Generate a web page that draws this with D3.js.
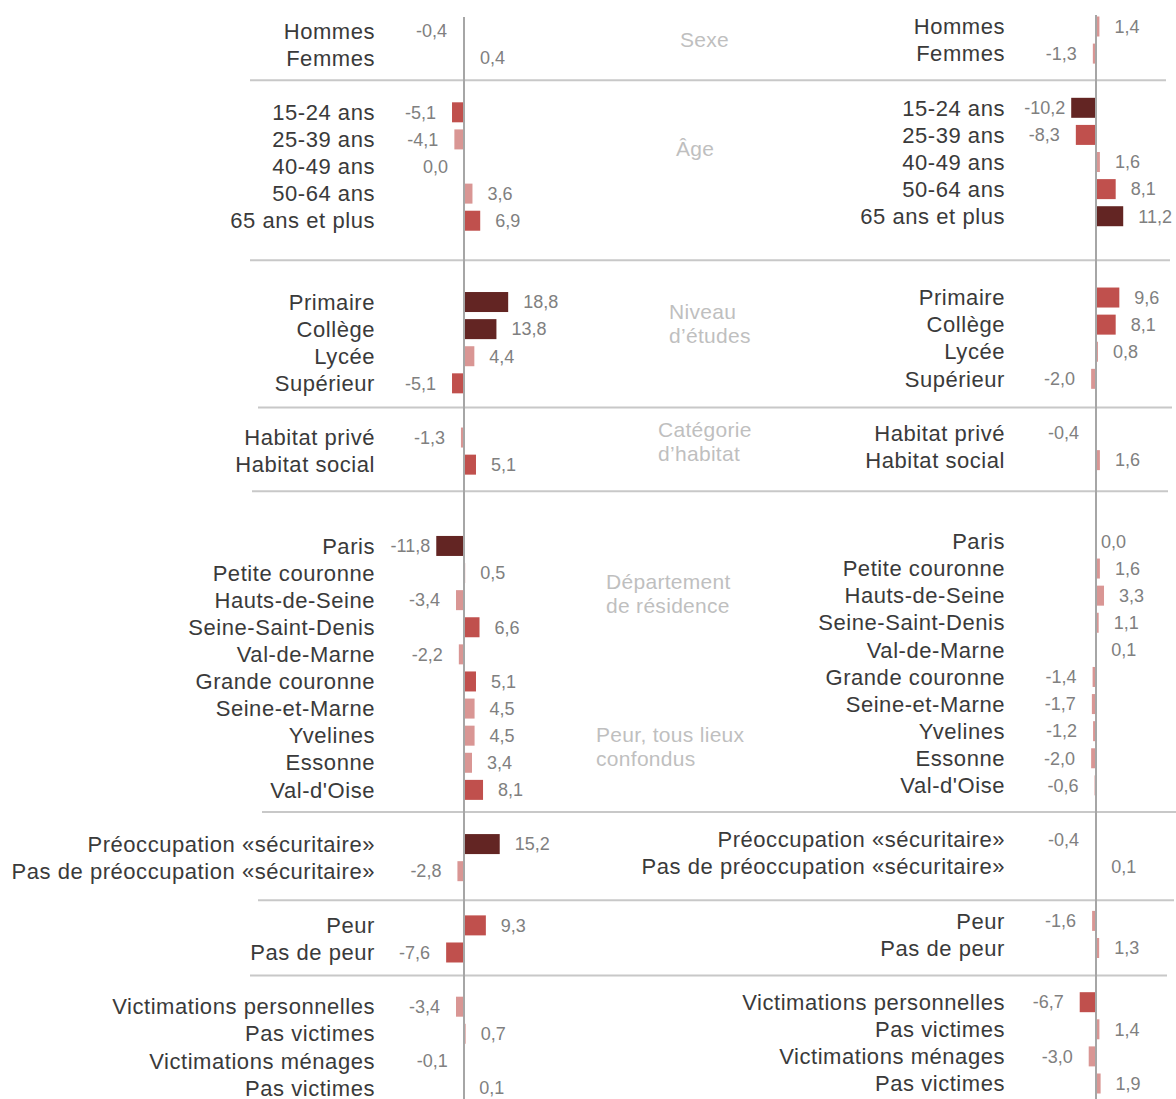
<!DOCTYPE html>
<html>
<head>
<meta charset="utf-8">
<script src="https://cdn.jsdelivr.net/npm/d3@7"></script>
<style>
  body { margin: 0; background: #fff; }
  svg { display: block; font-family: "Liberation Sans", Arial, sans-serif; }
</style>
</head>
<body>
<div id="chart"></div>
<script>
// categories, grouped
const categories = [
    ["Hommes", "Femmes"],
    ["15-24 ans", "25-39 ans", "40-49 ans", "50-64 ans", "65 ans et plus"],
    ["Primaire", "Collège", "Lycée", "Supérieur"],
    ["Habitat privé", "Habitat social"],
    ["Paris", "Petite couronne", "Hauts-de-Seine", "Seine-Saint-Denis", "Val-de-Marne",
     "Grande couronne", "Seine-et-Marne", "Yvelines", "Essonne", "Val-d'Oise"],
    ["Préoccupation «sécuritaire»", "Pas de préoccupation «sécuritaire»"],
    ["Peur", "Pas de peur"],
    ["Victimations personnelles", "Pas victimes", "Victimations ménages", "Pas victimes"]
];

const leftValues = [
    [-0.4, 0.4],
    [-5.1, -4.1, -0.0, 3.6, 6.9],
    [18.8, 13.8, 4.4, -5.1],
    [-1.3, 5.1],
    [-11.8, 0.5, -3.4, 6.6, -2.2, 5.1, 4.5, 4.5, 3.4, 8.1],
    [15.2, -2.8],
    [9.3, -7.6],
    [-3.4, 0.7, -0.1, 0.1]
];

const rightValues = [
    [1.4, -1.3],
    [-10.2, -8.3, 1.6, 8.1, 11.2],
    [9.6, 8.1, 0.8, -2.0],
    [-0.4, 1.6],
    [0.0, 1.6, 3.3, 1.1, 0.1, -1.4, -1.7, -1.2, -2.0, -0.6],
    [-0.4, 0.1],
    [-1.6, 1.3],
    [-6.7, 1.4, -3.0, 1.9]
];

const groupTitles = [
    ["Sexe"],
    ["Âge"],
    ["Niveau", "d’études"],
    ["Catégorie", "d’habitat"],
    ["Département", "de résidence"],
    ["Peur, tous lieux", "confondus"]
];

////////////////////////////////////////LAYOUT//////////////////////////////////////////////////
const width = 1176;
const height = 1099;
const gapsAfter = [1, 2, 1, 2, 1, 1, 1]; // empty rows between groups

// build the list of row keys, with spacer rows between groups
const slots = [];
categories.forEach((grp, g) => {
    grp.forEach((c, i) => slots.push(`${g}-${i}`));
    if (g < gapsAfter.length) {
        for (let k = 0; k < gapsAfter[g]; k++) slots.push(`gap${g}-${k}`);
    }
});

const rows = [];
categories.forEach((grp, g) => {
    grp.forEach((c, i) => rows.push({
        key: `${g}-${i}`,
        label: c,
        left: leftValues[g][i],
        right: rightValues[g][i]
    }));
});

const yLeft = d3.scalePoint().domain(slots).range([31, 1088]);
const yRight = d3.scalePoint().domain(slots).range([26.5, 1083.5]);

const xLeft = d3.scaleLinear().domain([-20, 20]).range([464 - 47, 464 + 47]);
const xRight = d3.scaleLinear().domain([-20, 20]).range([1096 - 48.6, 1096 + 48.6]);

const fr = d3.formatLocale({ decimal: ",", thousands: " ", grouping: [3], currency: ["", "€"], minus: "-" });
const fmt = fr.format(".1f");

const colour = v => {
    const a = Math.abs(v);
    if (a >= 10) return "#632523";
    if (a >= 5) return "#c0504d";
    return "#d99694";
};
const isNeg = v => v < 0 || Object.is(v, -0);

const svg = d3.select("#chart")
    .append("svg")
    .attr("width", width)
    .attr("height", height);

// separator lines (between groups) - placed in the gap, nudged a bit
const sepX = [[250, 1166], [250, 1170], [258, 1172], [252, 1168], [262, 1176], [258, 1174], [250, 1167]];
const sepNudge = [-5, -1, -3, -14, -5, 2, -4];
const sepY = gapsAfter.map((n, g) => {
    const a = yLeft(`gap${g}-0`), b = yLeft(`gap${g}-${n - 1}`);
    return (a + b) / 2 + sepNudge[g];
});
svg.selectAll(".sep")
    .data(sepY)
    .enter().append("line")
    .attr("class", "sep")
    .attr("x1", (d, i) => sepX[i][0])
    .attr("x2", (d, i) => sepX[i][1])
    .attr("y1", d => d)
    .attr("y2", d => d)
    .attr("stroke", "#c8c8c8")
    .attr("stroke-width", 2);

function drawPanel(key, x, y, labelRight, axisTop) {
    const g = svg.append("g").attr("class", "panel-" + key);

    // bars
    g.selectAll("rect")
        .data(rows)
        .enter().append("rect")
        .attr("x", d => Math.min(x(0), x(d[key])))
        .attr("y", d => y(d.key) - 10)
        .attr("width", d => Math.max(1, Math.abs(x(d[key]) - x(0))))
        .attr("height", 20)
        .attr("fill", d => colour(d[key]));

    // axis line
    g.append("line")
        .attr("x1", x(0)).attr("x2", x(0))
        .attr("y1", axisTop).attr("y2", height)
        .attr("stroke", "#a6a6a6")
        .attr("stroke-width", 2);

    // category labels
    g.selectAll(".cat")
        .data(rows)
        .enter().append("text")
        .attr("class", "cat")
        .attr("x", labelRight)
        .attr("y", d => y(d.key))
        .attr("dy", "0.35em")
        .attr("text-anchor", "end")
        .attr("fill", "#3a3a3a")
        .style("font-size", "22px")
        .style("letter-spacing", "0.55px")
        .text(d => d.label);

    // value labels
    g.selectAll(".val")
        .data(rows)
        .enter().append("text")
        .attr("class", "val")
        .attr("x", d => {
            const v = d[key];
            if (!isNeg(v)) return x(v) + (v === 0 ? 5 : 15);
            return x(v) - (Math.abs(v) >= 10 ? 6 : 16);
        })
        .attr("y", d => y(d.key))
        .attr("dy", "0.35em")
        .attr("text-anchor", d => isNeg(d[key]) ? "end" : "start")
        .attr("fill", "#808080")
        .style("font-size", "18px")
        .text(d => fmt(d[key]));
}

drawPanel("left", xLeft, yLeft, 375, 17);
drawPanel("right", xRight, yRight, 1005, 15);

// group titles in the middle column
const titlePos = [
    { x: 680, row: "0-0", dy: 16 },
    { x: 676, row: "1-1", dy: 17 },
    { x: 669, row: "2-0", dy: 17 },
    { x: 658, row: "3-0", dy: -1 },
    { x: 606, row: "4-1", dy: 16 },
    { x: 596, row: "4-7", dy: 6 }
];
const titles = svg.selectAll(".title")
    .data(groupTitles)
    .enter().append("text")
    .attr("class", "title")
    .attr("fill", "#bfbfbf")
    .style("font-size", "21px")
    .style("letter-spacing", "0.3px")
    .attr("x", (d, i) => titlePos[i].x)
    .attr("y", (d, i) => yLeft(titlePos[i].row) + titlePos[i].dy)
    .attr("dy", "0.35em");

titles.selectAll("tspan")
    .data((d, i) => d.map(t => ({ t, x: titlePos[i].x })))
    .enter().append("tspan")
    .attr("x", d => d.x)
    .attr("dy", (d, i) => i === 0 ? 0 : "1.15em")
    .text(d => d.t);
</script>
</body>
</html>
